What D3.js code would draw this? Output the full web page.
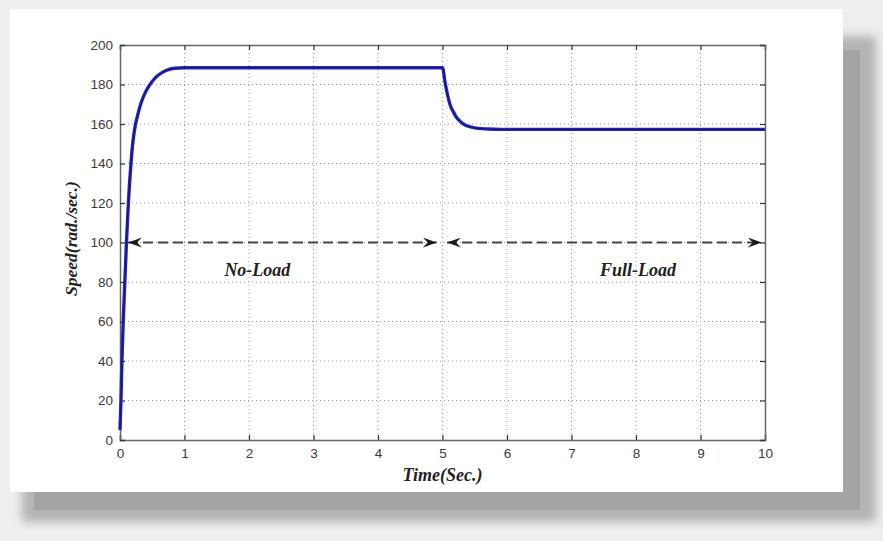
<!DOCTYPE html>
<html>
<head>
<meta charset="utf-8">
<script src="https://cdn.jsdelivr.net/npm/d3@7"></script>
<style>
  html, body { margin: 0; padding: 0; background: #eeeeee; }
  svg { display: block; }
</style>
</head>
<body>
<svg id="chart" width="883" height="541"></svg>
<script>
// ---- data ----
const time  = [0, 0.015, 0.03, 0.05, 0.075, 0.1, 0.13, 0.17, 0.2, 0.23, 0.27, 0.33, 0.4, 0.465, 0.55, 0.65, 0.75, 0.85, 1.0, 2, 3, 4, 5.0, 5.04, 5.08, 5.12, 5.17, 5.21, 5.28, 5.35, 5.45, 5.55, 5.7, 5.9, 6.5, 8, 10];
const speed = [5, 20, 40, 60, 80, 100, 120, 140, 151, 158, 164, 171, 176.5, 180, 183.5, 186, 187.5, 188.2, 188.5, 188.5, 188.5, 188.5, 188.5, 181, 174.5, 169.5, 166, 163.7, 161.2, 159.5, 158.4, 157.8, 157.5, 157.3, 157.3, 157.3, 157.3];
const xTicks = [0, 1, 2, 3, 4, 5, 6, 7, 8, 9, 10];
const yTicks = [0, 20, 40, 60, 80, 100, 120, 140, 160, 180, 200];
const arrowLevel = 100;
const arrowSpans = [[0.124, 4.91], [5.07, 9.95]];
const regionLabels = ["No-Load", "Full-Load"];
const regionCenters = [2.13, 8.03];
const regionLabelValue = 83;
const xTitle = "Time(Sec.)";
const yTitle = "Speed(rad./sec.)";

const svg = d3.select("#chart");

// ---- page frame with shadow ----
const defs = svg.append("defs");
defs.append("filter").attr("id", "blur").attr("x", "-10%").attr("y", "-10%").attr("width", "120%").attr("height", "120%")
  .append("feGaussianBlur").attr("stdDeviation", 5);
svg.append("rect").attr("x", 0).attr("y", 0).attr("width", 883).attr("height", 541).attr("fill", "#eeeeee");
svg.append("rect").attr("x", 22).attr("y", 36).attr("width", 854).attr("height", 486).attr("fill", "#b4b4b4").attr("filter", "url(#blur)");
svg.append("rect").attr("x", 34).attr("y", 50).attr("width", 826).attr("height", 460).attr("fill", "#a4a4a4");
svg.append("rect").attr("x", 10).attr("y", 9).attr("width", 833).attr("height", 483).attr("fill", "#ffffff");

// ---- scales ----
const L = 120, R = 765, T = 45, B = 440;
const x = d3.scaleLinear().domain([0, 10]).range([L, R]);
const y = d3.scaleLinear().domain([0, 200]).range([B, T]);

const g = svg.append("g");

// grid
g.append("g").selectAll("line").data(xTicks.slice(1, -1)).join("line")
  .attr("x1", d => x(d)).attr("x2", d => x(d)).attr("y1", T).attr("y2", B)
  .attr("stroke", "#999").attr("stroke-width", 1).attr("stroke-dasharray", "1,3");
g.append("g").selectAll("line").data(yTicks.slice(1, -1)).join("line")
  .attr("x1", L).attr("x2", R).attr("y1", d => y(d)).attr("y2", d => y(d))
  .attr("stroke", "#999").attr("stroke-width", 1).attr("stroke-dasharray", "1,3");

// axes with inward ticks
const tickLen = 5;
const axisB = g.append("g").attr("transform", `translate(0,${B})`)
  .call(d3.axisBottom(x).tickValues(xTicks).tickSize(-tickLen).tickPadding(8).tickFormat(d3.format("d")));
const axisT = g.append("g").attr("transform", `translate(0,${T})`)
  .call(d3.axisTop(x).tickValues(xTicks).tickSize(-tickLen).tickFormat(""));
const axisL = g.append("g").attr("transform", `translate(${L},0)`)
  .call(d3.axisLeft(y).tickValues(yTicks).tickSize(-tickLen).tickPadding(7).tickFormat(d3.format("d")));
const axisR = g.append("g").attr("transform", `translate(${R},0)`)
  .call(d3.axisRight(y).tickValues(yTicks).tickSize(-tickLen).tickFormat(""));
[axisB, axisT, axisL, axisR].forEach(a => {
  a.select(".domain").attr("stroke", "#666").attr("stroke-width", 1.5);
  a.selectAll(".tick line").attr("stroke", "#333").attr("stroke-width", 1.2);
  a.selectAll("text").attr("fill", "#3a3a3a")
    .style("font-family", "'Liberation Sans Narrow', 'Liberation Sans', Arial, sans-serif")
    .style("font-size", "13.5px");
});

// arrow markers
defs.append("marker").attr("id", "arrowEnd").attr("viewBox", "0 0 14 10")
  .attr("refX", 14).attr("refY", 5).attr("markerWidth", 14).attr("markerHeight", 10)
  .attr("markerUnits", "userSpaceOnUse").attr("orient", "auto")
  .append("path").attr("d", "M0,0 L14,5 L0,10 L5,5 Z").attr("fill", "#1a1a1a");
defs.append("marker").attr("id", "arrowStart").attr("viewBox", "0 0 14 10")
  .attr("refX", 0).attr("refY", 5).attr("markerWidth", 14).attr("markerHeight", 10)
  .attr("markerUnits", "userSpaceOnUse").attr("orient", "auto")
  .append("path").attr("d", "M14,0 L0,5 L14,10 L9,5 Z").attr("fill", "#1a1a1a");

g.append("g").selectAll("line").data(arrowSpans).join("line")
  .attr("x1", d => x(d[0])).attr("x2", d => x(d[1]))
  .attr("y1", y(arrowLevel)).attr("y2", y(arrowLevel))
  .attr("stroke", "#444").attr("stroke-width", 1.8).attr("stroke-dasharray", "10,5")
  .attr("marker-start", "url(#arrowStart)").attr("marker-end", "url(#arrowEnd)");

// region labels
g.append("g").selectAll("text").data(regionLabels).join("text")
  .attr("x", (d, i) => x(regionCenters[i])).attr("y", y(regionLabelValue))
  .attr("text-anchor", "middle")
  .style("font-family", "'Liberation Serif', 'Times New Roman', serif")
  .style("font-style", "italic").style("font-weight", "bold").style("font-size", "18px")
  .attr("fill", "#222").text(d => d);

// speed line
const pts = time.map((t, i) => [t, speed[i]]);
const line = d3.line().x(d => x(d[0])).y(d => y(d[1])).curve(d3.curveMonotoneX);
g.append("path").datum(pts).attr("d", line)
  .attr("fill", "none").attr("stroke", "#2828c0").attr("stroke-width", 3.4);
g.append("path").datum(pts).attr("d", line)
  .attr("fill", "none").attr("stroke", "#12126a").attr("stroke-width", 1);

// titles
svg.append("text").attr("x", x(5)).attr("y", 481).attr("text-anchor", "middle")
  .style("font-family", "'Liberation Serif', 'Times New Roman', serif")
  .style("font-style", "italic").style("font-weight", "bold").style("font-size", "18px")
  .attr("fill", "#222").text(xTitle);
svg.append("text").attr("transform", `translate(77,${y(102)}) rotate(-90)`).attr("text-anchor", "middle")
  .style("font-family", "'Liberation Serif', 'Times New Roman', serif")
  .style("font-style", "italic").style("font-weight", "bold").style("font-size", "17.5px")
  .attr("fill", "#222").text(yTitle);
</script>
</body>
</html>
